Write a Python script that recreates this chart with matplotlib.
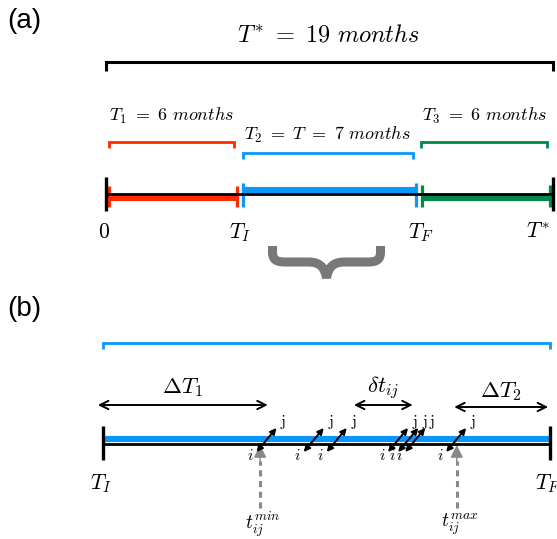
import matplotlib
matplotlib.use('Agg')
import matplotlib.pyplot as plt
import numpy as np
from matplotlib.path import Path
from matplotlib.patches import PathPatch

plt.rcParams['mathtext.fontset'] = 'cm'

# ---------------- data ----------------
total_label = r'$T^{*}\ =\ 19\ months$'
segment_months = [6, 7, 6]
segment_labels = [r'$T_1\ =\ 6\ months$', r'$T_2\ =\ T\ =\ 7\ months$', r'$T_3\ =\ 6\ months$']
segment_lengths = [6, 8, 6]          # drawn lengths of the three periods
segment_colors = ['#FF2A00', '#0A96FA', '#00894A']
boundary_labels = ['$0$', '$T_I$', '$T_F$', '$T^{*}$']

window_length = 7                      # T_I .. T_F (months)
window_labels = ['$T_I$', '$T_F$']
pair_times = [2.56, 3.30, 3.66, 4.62, 4.78, 4.89, 5.53]
t_min, t_max = 2.46, 5.54
interval_starts = [-0.08, 3.93, 5.50]
interval_ends = [2.58, 4.85, 6.97]
interval_labels = [r'$\Delta T_1$', r'$\delta t_{ij}$', r'$\Delta T_2$']

# ---------------- layout ----------------
W, H = 557, 539
fig = plt.figure(figsize=(W / 100, H / 100), dpi=100)

ax_px = fig.add_axes([0, 0, 1, 1])
ax_px.set_xlim(0, W); ax_px.set_ylim(H, 0); ax_px.set_axis_off()

total_len = sum(segment_lengths)
ax_a = fig.add_axes([106 / W, 0, 447 / W, 1])
ax_a.set_xlim(0, total_len); ax_a.set_ylim(H, 0); ax_a.set_axis_off()
pa = total_len / 447.0  # data units per pixel

ax_b = fig.add_axes([103 / W, 0, 447 / W, 1])
ax_b.set_xlim(0, window_length); ax_b.set_ylim(H, 0); ax_b.set_axis_off()
pb = window_length / 447.0

# panel labels
ax_px.text(7, 21, '(a)', fontsize=20, family='Liberation Sans', ha='left', va='center')
ax_px.text(7, 309, '(b)', fontsize=20, family='Liberation Sans', ha='left', va='center')

# ---------------- panel (a) ----------------
bounds = np.concatenate([[0], np.cumsum(segment_lengths)])

ax_a.plot([0, 0, total_len, total_len], [71, 62, 62, 71], color='k', lw=2.2,
          solid_joinstyle='miter', solid_capstyle='butt', clip_on=False)
ax_a.text(total_len / 2 - 1 * pa, 42, total_label, fontsize=17.5, ha='center', va='baseline')

br_y = [142, 153, 142]
lab_y = [121, 140, 121]
bar_y = [198, 190, 198]
tick_top = [186, 183, 185]
for k in range(3):
    x0, x1 = bounds[k], bounds[k + 1]
    c = segment_colors[k]
    bl, brr = x0 + 2.5 * pa, x1 - 6 * pa
    ax_a.plot([bl, bl, brr, brr], [br_y[k] + 6, br_y[k], br_y[k], br_y[k] + 6], color=c,
              lw=2.0, solid_joinstyle='miter', solid_capstyle='butt', clip_on=False)
    ax_a.text((bl + brr) / 2, lab_y[k], segment_labels[k], fontsize=13, ha='center', va='baseline')
    s0, s1 = x0 + 3 * pa, x1 - 3 * pa
    ax_a.plot([s0, s1], [bar_y[k], bar_y[k]], color=c, lw=4.4, solid_capstyle='butt', clip_on=False)
    for xx in (s0, s1):
        ax_a.plot([xx, xx], [tick_top[k], 207], color=c, lw=2.3, solid_capstyle='butt', clip_on=False)

ax_a.plot([0, total_len], [194, 194], color='k', lw=2.0, solid_capstyle='butt', zorder=3, clip_on=False)
for xx in (0, total_len):
    ax_a.plot([xx, xx], [177, 211], color='k', lw=2.4, solid_capstyle='butt', zorder=4, clip_on=False)
label_shift = [-2, 0, 2, -15]
for xx, lab, sh in zip(bounds, boundary_labels, label_shift):
    ax_a.text(xx + sh * pa, 238, lab, fontsize=15.5, ha='center', va='baseline')

# curly brace under T_I..T_F
xc = 106 + (bounds[1] + bounds[2]) / 2 / pa - 3
verts = [(xc - 54, 246), (xc - 54, 252),
         (xc - 54, 260), (xc - 50, 262), (xc - 41, 262),
         (xc - 18, 262),
         (xc - 8, 262), (xc - 2, 266), (xc, 278),
         (xc + 2, 266), (xc + 8, 262), (xc + 18, 262),
         (xc + 41, 262),
         (xc + 50, 262), (xc + 54, 260), (xc + 54, 252),
         (xc + 54, 246)]
codes = [Path.MOVETO, Path.LINETO,
         Path.CURVE4, Path.CURVE4, Path.CURVE4,
         Path.LINETO,
         Path.CURVE4, Path.CURVE4, Path.CURVE4,
         Path.CURVE4, Path.CURVE4, Path.CURVE4,
         Path.LINETO,
         Path.CURVE4, Path.CURVE4, Path.CURVE4,
         Path.LINETO]
ax_px.add_patch(PathPatch(Path(verts, codes), facecolor='none', edgecolor='#787878',
                          lw=6.5, capstyle='butt', joinstyle='bevel'))

# ---------------- panel (b) ----------------
blue = segment_colors[1]
ax_b.plot([0, 0, window_length, window_length], [349, 343, 343, 349], color=blue, lw=2.0,
          solid_joinstyle='miter', solid_capstyle='butt', clip_on=False)
ax_b.plot([0, window_length], [439, 439], color=blue, lw=4.4, solid_capstyle='butt', clip_on=False)
ax_b.plot([0, window_length], [444, 444], color='k', lw=2.0, solid_capstyle='butt', zorder=3, clip_on=False)
for xx, lab in zip([0, window_length], window_labels):
    ax_b.plot([xx, xx], [426, 460], color='k', lw=2.4, solid_capstyle='butt', zorder=4, clip_on=False)
    ax_b.text(xx - 2 * pb, 489, lab, fontsize=15.5, ha='center', va='baseline')

arr_y = [405, 405, 407]
lab_by = [393, 393, 397]
for s, e, lab, ay, ly in zip(interval_starts, interval_ends, interval_labels, arr_y, lab_by):
    ax_b.annotate('', xy=(e, ay), xytext=(s, ay),
                  arrowprops=dict(arrowstyle='<->', lw=1.4, color='k', shrinkA=0, shrinkB=0,
                                  mutation_scale=15), annotation_clip=False)
    ax_b.text((s + e) / 2, ly, lab, fontsize=16.5, ha='center', va='baseline')

dx = 10 * pb
for t in pair_times:
    ax_b.annotate('', xy=(t + dx, 428), xytext=(t - dx, 452),
                  arrowprops=dict(arrowstyle='<|-|>', lw=1.4, color='k', shrinkA=0, shrinkB=0,
                                  mutation_scale=9), zorder=5, annotation_clip=False)
    ax_b.text(t - dx - 6 * pb, 455, '$i$', fontsize=11.5, ha='center', va='center')
    ax_b.text(t + dx + 7 * pb, 422, r'$\mathrm{j}$', fontsize=11.5, ha='center', va='center')

for t, lab in zip([t_min, t_max], [r'$t_{ij}^{min}$', r'$t_{ij}^{max}$']):
    ax_b.plot([t, t], [508, 461], color='#888888', lw=2.2, dashes=(2, 1.5), clip_on=False)
    ax_b.annotate('', xy=(t, 445), xytext=(t, 462),
                  arrowprops=dict(arrowstyle='-|>', lw=1, color='#888888', shrinkA=0, shrinkB=0,
                                  mutation_scale=19), annotation_clip=False)
    ax_b.text(t + 3 * pb, 524, lab, fontsize=14, ha='center', va='center')

fig.savefig('out.png', dpi=100)
